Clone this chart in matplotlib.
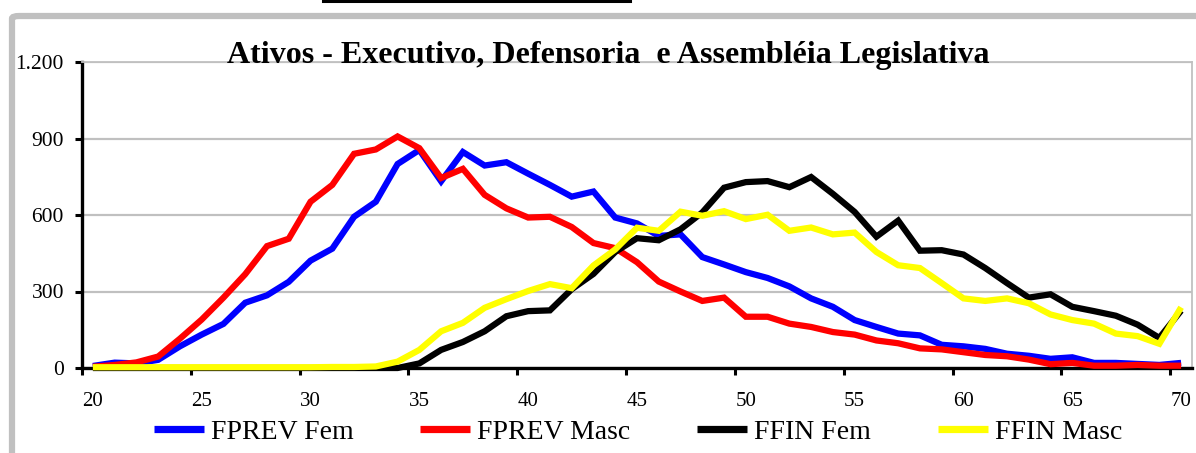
import matplotlib
matplotlib.use("Agg")
import matplotlib.pyplot as plt
from matplotlib.lines import Line2D
from matplotlib.patches import FancyBboxPatch

ages = list(range(20, 71))

fprev_fem = [8, 21, 18, 32, 85, 131, 173, 256, 285, 338,
             421, 468, 593, 652, 800, 855, 732, 847, 794, 807,
             762, 718, 672, 692, 590, 567, 518, 524, 435, 406,
             376, 353, 320, 273, 240, 188, 161, 135, 128, 91,
             85, 75, 56, 48, 36, 42, 20, 20, 16, 12, 20]

fprev_masc = [5, 12, 22, 45, 115, 190, 276, 368, 478, 507,
              652, 718, 840, 857, 908, 862, 745, 781, 679, 626,
              590, 593, 553, 490, 470, 415, 339, 300, 263, 276,
              201, 201, 174, 161, 141, 131, 108, 97, 77, 73,
              62, 51, 46, 33, 15, 20, 9, 9, 12, 9, 9]

ffin_fem = [0, 0, 0, 0, 0, 0, 0, 0, 0, 0,
            0, 0, 0, 0, 0, 18, 71, 102, 144, 203,
            223, 226, 309, 369, 455, 509, 501, 544, 610, 707,
            729, 733, 709, 749, 683, 612, 515, 578, 460, 462,
            445, 392, 333, 276, 289, 240, 223, 205, 170, 118, 225]

ffin_masc = [3, 3, 3, 3, 3, 3, 3, 3, 3, 3,
             3, 4, 4, 6, 25, 71, 144, 177, 236, 270,
             302, 329, 313, 402, 465, 550, 538, 613, 597, 615,
             584, 601, 538, 551, 524, 531, 455, 403, 392, 333,
             273, 263, 273, 254, 210, 188, 174, 135, 125, 95, 238]

series_names = ["FPREV Fem", "FPREV Masc", "FFIN Fem", "FFIN Masc"]
series_colors = ["#0000FF", "#FF0000", "#000000", "#FFFF00"]

x_labels = ["20", "25", "30", "35", "40", "45", "50", "55", "60", "65", "70"]
y_ticks = [0, 300, 600, 900, 1200]
y_labels = ["0", "300", "600", "900", "1.200"]

title = "Ativos - Executivo, Defensoria  e Assembléia Legislativa"

W, H = 1196, 453
fig = plt.figure(figsize=(W / 100, H / 100), dpi=100)
fig.patch.set_facecolor("white")

# outer chart frame (gray, partly cut off)
frame = FancyBboxPatch((12 / W, -0.2), 1.3, (H - 16) / H + 0.2,
                       boxstyle="round,pad=0,rounding_size=0.006",
                       transform=fig.transFigure, facecolor="none",
                       edgecolor="#C0C0C0", linewidth=4.5, zorder=0)
fig.add_artist(frame)
# black line at very top
fig.add_artist(Line2D([323 / W, 630 / W], [1 - 1.2 / H, 1 - 1.2 / H],
                      transform=fig.transFigure, color="black", linewidth=2.2))

ax = fig.add_axes([82 / W, 1 - 368 / H, (1192 - 82) / W, (368 - 62) / H])

all_series = [fprev_fem, fprev_masc, ffin_fem, ffin_masc]
for vals, name, col in zip(all_series, series_names, series_colors):
    ax.plot(ages, vals, color=col, linewidth=4.5, label=name, zorder=3,
            clip_on=False, solid_joinstyle="miter", solid_capstyle="butt")

ax.set_xlim(19.5, 70.5)
ax.set_ylim(0, 1200)

# y axis
ax.set_yticks(y_ticks)
ax.set_yticklabels(y_labels, fontfamily="Liberation Serif", fontsize=15.5)
ax.tick_params(axis="y", direction="out", length=5, width=2.2, pad=8)
ax.yaxis.grid(True, color="#C0C0C0", linewidth=1.6, zorder=0)
ax.set_axisbelow(True)

# x axis: ticks at category boundaries, labels at centres
label_pos = [int(s) for s in x_labels]
ax.set_xticks([p - 0.5 for p in label_pos])
ax.set_xticklabels([])
ax.set_xticks(label_pos, minor=True)
ax.set_xticklabels(x_labels, minor=True, fontfamily="Liberation Serif", fontsize=15)
ax.tick_params(axis="x", which="major", direction="out", length=5, width=2.2)
ax.tick_params(axis="x", which="minor", length=0, pad=17)

for side in ["left", "bottom"]:
    ax.spines[side].set_color("black")
    ax.spines[side].set_linewidth(2.4)
for side in ["top", "right"]:
    ax.spines[side].set_color("#C0C0C0")
    ax.spines[side].set_linewidth(1.3)

fig.text(608 / W, 1 - 63 / H, title, ha="center", va="baseline",
         fontfamily="Liberation Serif", fontweight="bold", fontsize=23, zorder=5)

leg = fig.legend(loc="center", bbox_to_anchor=(638 / W, 1 - 432 / H), ncol=4,
                 frameon=False, prop={"family": "Liberation Serif", "size": 20},
                 handlelength=1.8, handletextpad=0.25, columnspacing=2.4,
                 borderaxespad=0, borderpad=0)
for h in leg.get_lines():
    h.set_linewidth(5.2)

fig.savefig("out.png", dpi=100, facecolor="white")
